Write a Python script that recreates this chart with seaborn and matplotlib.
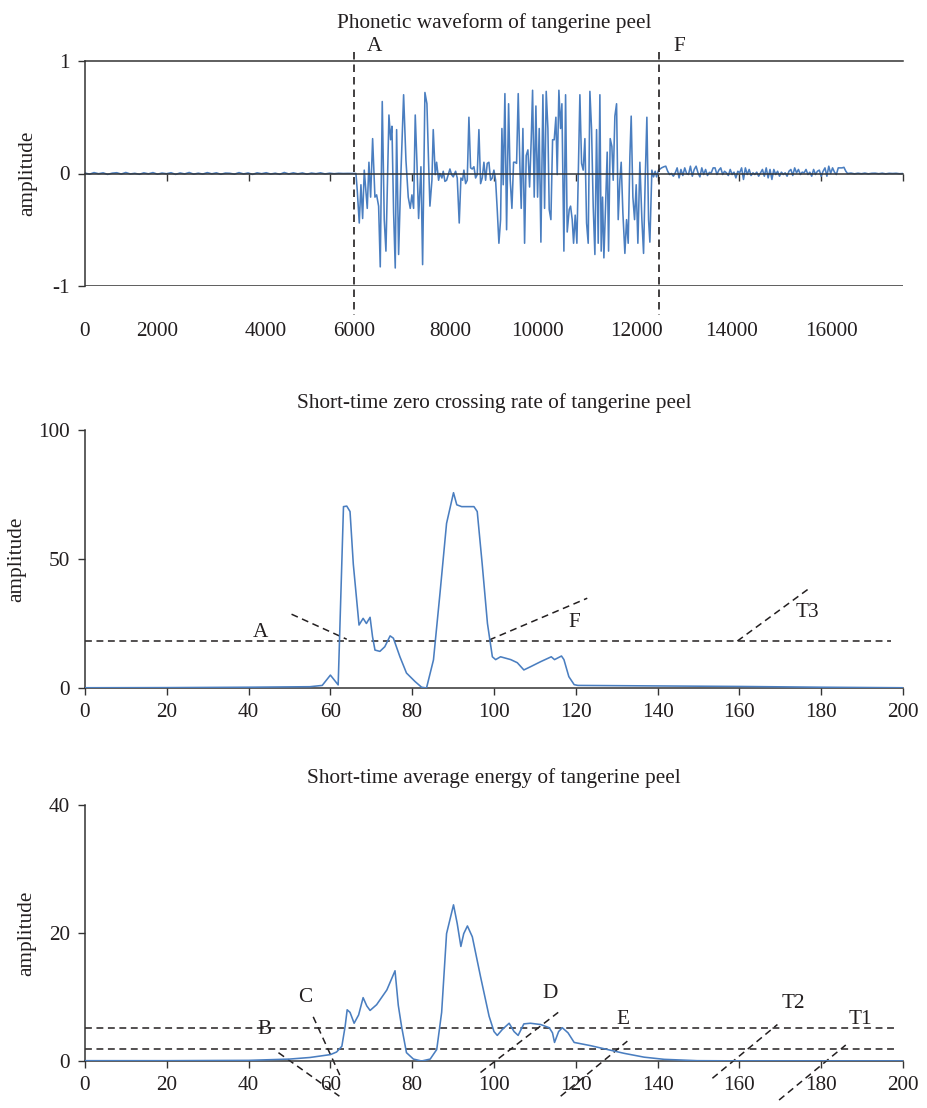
import numpy as np
import matplotlib.pyplot as plt
from matplotlib.ticker import FixedLocator
import seaborn as sns

# ---------------- data ----------------
# phonetic waveform: quiet lead-in, voiced part (A..F), weak tail
pre_amp = [0.004, -0.006, 0.008, -0.002, 0.006, -0.008, 0.003, 0.007, -0.005, 0.009,
           -0.004, 0.002, -0.007, 0.006, -0.003, 0.008, -0.006, 0.004, -0.002, 0.007,
           -0.008, 0.005, -0.004, 0.009, -0.006, 0.003, -0.005, 0.008, -0.003, 0.006,
           -0.007, 0.004, 0.002, -0.006, 0.008, -0.004, 0.005, -0.008, 0.006, -0.002,
           0.007, -0.005, 0.003, -0.007, 0.009, -0.004, 0.006, -0.003, 0.005, -0.006,
           0.004, -0.002, 0.006, -0.004, 0.003, -0.002, 0.002, 0.0, 0.001, 0.0]
pre_span = (0, 5880)

voiced_x = [5918, 5962, 5991, 6035, 6072, 6109, 6145, 6211, 6248, 6285, 6329, 6380, 6417,
            6461, 6497, 6541, 6585, 6622, 6688, 6725, 6754, 6791, 6827, 6857, 6901, 6952,
            7011, 7062, 7113, 7157, 7194, 7231, 7267, 7304, 7341, 7392, 7429, 7480, 7524,
            7561, 7590, 7634, 7663, 7707, 7737, 7781, 7810, 7854, 7883, 7920, 7957, 7993,
            8030, 8067, 8103, 8155, 8191, 8235, 8272, 8309, 8338, 8375, 8411, 8448, 8485,
            8521, 8558, 8595, 8631, 8668, 8705, 8741, 8778, 8815, 8851, 8888, 8925, 8961,
            8998, 9035, 9071, 9108, 9145, 9174, 9203, 9240, 9277, 9321, 9357, 9394, 9431,
            9467, 9497, 9533, 9570, 9599, 9636, 9673, 9709, 9746, 9783, 9819, 9849, 9885,
            9922, 9959, 9995, 10032, 10076, 10113, 10149, 10186, 10215, 10252, 10289,
            10325, 10362, 10391, 10428, 10465, 10494, 10538, 10575, 10611, 10655, 10685,
            10721, 10751, 10787, 10824, 10853, 10890, 10927, 10963, 11000, 11037, 11073,
            11110, 11147, 11183, 11220, 11257, 11293, 11330, 11359, 11389, 11418, 11455,
            11491, 11521, 11557, 11594, 11623, 11660, 11697, 11733, 11770, 11799, 11836,
            11880, 11917, 11953, 11990, 12019, 12056, 12093, 12129, 12166, 12210, 12254,
            12291, 12327, 12364, 12401, 12430, 12474, 12511, 12547, 12577, 12621, 12687,
            12738]
voiced_amp = [0.0, 0.0, -0.15, -0.44, -0.10, -0.40, 0.03, -0.31, 0.10, -0.21, 0.31, -0.21,
              -0.19, -0.29, -0.83, 0.64, -0.41, -0.69, 0.52, 0.30, 0.42, -0.35, -0.84, 0.39,
              -0.72, 0.0, 0.70, 0.12, -0.21, -0.31, -0.19, -0.31, 0.52, 0.10, -0.40, 0.06,
              -0.81, 0.72, 0.62, 0.09, -0.29, -0.06, 0.39, -0.01, 0.10, -0.06, 0.0, -0.04,
              0.02, -0.07, -0.06, -0.01, 0.04, -0.01, -0.03, 0.02, -0.04, -0.44, -0.04,
              -0.06, 0.03, -0.09, -0.06, 0.50, 0.05, 0.04, 0.06, -0.04, -0.01, 0.39, -0.09,
              -0.04, 0.10, -0.06, 0.09, 0.10, -0.06, -0.04, 0.03, -0.06, -0.32, -0.62,
              -0.41, 0.40, -0.10, 0.71, -0.50, 0.62, -0.06, -0.31, 0.10, 0.10, 0.09, 0.71,
              0.06, -0.31, 0.40, -0.62, 0.16, 0.21, -0.12, 0.30, 0.74, -0.21, 0.60, -0.21,
              0.40, -0.61, 0.70, -0.31, 0.73, 0.40, -0.32, -0.41, 0.30, 0.30, 0.50, -0.01,
              0.74, 0.40, 0.62, -0.69, 0.70, -0.52, -0.32, -0.29, -0.41, -0.62, -0.37,
              -0.62, -0.06, 0.70, 0.09, 0.03, 0.31, -0.44, -0.62, 0.73, 0.39, -0.29, -0.72,
              0.39, -0.62, 0.70, -0.69, -0.21, -0.75, -0.29, 0.19, -0.69, 0.31, 0.24, -0.06,
              0.51, 0.62, -0.41, -0.06, 0.10, -0.35, -0.71, -0.41, -0.62, 0.15, 0.51, -0.21,
              -0.41, -0.10, -0.62, 0.10, -0.41, -0.71, -0.06, 0.50, -0.41, -0.61, 0.03,
              -0.03, 0.02, -0.03, 0.03, 0.05, 0.06]

post_amp = [0.065, 0.02, -0.009, 0.0, -0.024, 0.006, 0.05, -0.039, 0.036, -0.018, 0.05, 0.0,
            -0.009, 0.065, -0.024, 0.036, 0.065, 0.006, -0.03, 0.05, -0.009, 0.036, -0.018,
            0.01, 0.006, 0.05, 0.05, -0.009, 0.03, 0.05, -0.009, 0.02, 0.006, -0.018, 0.036,
            -0.009, 0.012, -0.039, 0.02, 0.006, 0.05, -0.053, 0.05, -0.009, 0.036, -0.018,
            0.006, -0.009, 0.012, -0.024, 0.006, 0.036, -0.024, 0.05, -0.039, 0.036, -0.053,
            0.036, -0.009, 0.02, -0.024, 0.012, -0.009, 0.006, -0.024, 0.02, 0.036, -0.018,
            0.05, 0.006, 0.036, -0.009, 0.012, 0.006, 0.036, -0.009, 0.012, -0.024, 0.036,
            -0.009, 0.02, 0.03, -0.024, 0.02, 0.05, -0.024, 0.065, 0.0, 0.05, 0.012, -0.009,
            0.05, 0.05, 0.05, 0.055, 0.02]
post_span = (12780, 16742)
tail_amp = [0.0, 0.004, -0.003, 0.003, -0.002, 0.004, -0.003, 0.002, 0.003, -0.002, 0.003,
            -0.003, 0.002, 0.0, 0.002, -0.002, 0.0]
tail_span = (16780, 18000)

wave_tick_pos = [0, 1580, 3980, 5920, 8030, 9950, 12130, 14220, 16430]
wave_tick_labels = ["0", "2000", "4000", "6000", "8000", "10000", "12000", "14000", "16000"]
endpoints_x = [5920, 12640]
endpoints_lab = ["A", "F"]

# short-time zero crossing rate
zcr_x = [0, 20, 40, 55, 58, 60, 61.9, 63.2, 64.0, 64.8, 65.6, 67.0, 68.0, 68.8, 69.7, 70.3,
         70.9, 72.1, 73.3, 74.6, 75.4, 77.0, 78.6, 80.7, 82.3, 83.5, 85.2, 86.8, 88.4, 90.1,
         90.9, 92.1, 93.5, 95.1, 95.9, 97.1, 98.4, 99.6, 100.4, 101.6, 104.1, 105.7, 107.3,
         109.0, 111.4, 114.0, 114.8, 116.5, 117.1, 118.3, 119.6, 120.5, 140, 160, 180, 200]
zcr_y = [0.1, 0.15, 0.3, 0.5, 1.0, 5.0, 1.2, 70.3, 70.5, 68.4, 48, 24.4, 27.0, 25, 27.4, 19.9,
         14.7, 14.2, 16, 20.2, 19.3, 12.1, 5.8, 2.5, 0.3, 0.0, 10.9, 36.8, 63.8, 75.7, 71,
         70.3, 70.3, 70.3, 68.4, 48.3, 25, 12.1, 11, 12.1, 11, 9.8, 7.0, 8.3, 10.2, 12.1, 11,
         12.4, 11, 4.4, 1.3, 1.0, 0.8, 0.6, 0.3, 0.1]
zcr_threshold = 18.2
zcr_labels = ["A", "F", "T3"]
zcr_label_xy = [(42.8, 21.7), (119.6, 25.5), (176.6, 29.2)]
zcr_leaders = [((50.5, 28.6), (64.0, 18.9)), ((98.8, 18.6), (122.8, 34.8)),
               ((159.5, 18.2), (177.4, 39.0))]

# short-time average energy
en_x = [0, 20, 40, 50, 55, 60, 61.5, 62.8, 63.6, 64.1, 64.8, 65.8, 66.9, 68.0, 68.9, 69.7,
        71.3, 73.8, 75.8, 76.6, 77.4, 78.6, 80.3, 82.3, 84.4, 86.0, 87.2, 88.4, 90.1, 91.0,
        91.9, 92.6, 93.5, 94.7, 96.7, 98.8, 100.0, 100.8, 102.0, 103.7, 104.9, 105.9, 107.3,
        108.9, 111.4, 113.5, 114.3, 114.8, 115.8, 116.7, 118.1, 119.6, 123.6, 127.7, 131.8,
        136.7, 141.6, 149.7, 160, 180, 200]
en_y = [0.05, 0.05, 0.1, 0.3, 0.55, 1.0, 1.4, 2.3, 5.4, 8.0, 7.6, 5.9, 7.2, 9.9, 8.6, 7.9,
        8.8, 11.1, 14.1, 8.7, 5.4, 1.3, 0.3, 0.0, 0.3, 1.8, 7.6, 19.9, 24.4, 21.5, 17.9,
        19.9, 21.1, 19.4, 13.2, 7.0, 4.6, 4.0, 4.9, 5.9, 4.6, 4.0, 5.8, 5.9, 5.7, 5.2, 4.4,
        2.9, 4.6, 5.2, 4.4, 2.9, 2.4, 1.8, 1.2, 0.6, 0.26, 0.05, 0.02, 0.02, 0.02]
en_thresholds = [5.1, 1.95]
en_labels = ["B", "C", "D", "E", "T2", "T1"]
en_label_xy = [(43.8, 5.0), (53.8, 9.95), (113.6, 10.6), (131.4, 6.5), (173.3, 9.0),
               (189.6, 6.5)]
en_leaders = [((47.3, 1.3), (62.2, -5.5)), ((55.8, 6.9), (62.3, -2.2)),
              ((96.7, -1.8), (115.7, 7.6)), ((116.3, -5.5), (132.6, 3.1)),
              ((153.4, -2.7), (169.3, 5.7)), ((169.7, -6.1), (186.0, 2.5))]

# ---------------- style ----------------
sns.set_style("ticks")
plt.rcParams["font.family"] = ["Liberation Serif", "DejaVu Serif"]
plt.rcParams["axes.unicode_minus"] = False

BLUE = "#4a7ec0"
INK = "#231f20"
AXC = "#333333"
FS = 15.3
DASH = (0, (4.5, 3))

fig = plt.figure(figsize=(9.28, 11.08), dpi=100)
W, H = 928, 1108


def box(top, bottom):
    return [85 / W, 1 - bottom / H, 818 / W, (bottom - top) / H]


def style_axis(ax):
    for s in ax.spines.values():
        s.set_color(AXC)
        s.set_linewidth(1.1)
    ax.tick_params(which="both", direction="out", length=5, width=1.0, color=AXC,
                   labelsize=FS, labelcolor=INK, pad=6)


# ---------- panel 1: waveform ----------
ax1 = fig.add_axes(box(61, 286))
wave_x = np.concatenate([np.linspace(*pre_span, len(pre_amp)), voiced_x,
                         np.linspace(*post_span, len(post_amp)),
                         np.linspace(*tail_span, len(tail_amp))])
wave_y = np.concatenate([pre_amp, voiced_amp, post_amp, tail_amp])
sns.lineplot(x=wave_x, y=wave_y, ax=ax1, color=BLUE, lw=1.15, estimator=None, zorder=2)
ax1.set_xlim(0, 18000)
ax1.set_ylim(-1, 1)
style_axis(ax1)
ax1.spines["right"].set_visible(False)
ax1.spines["bottom"].set_position(("data", 0))
ax1.axhline(-1, color=AXC, lw=1.1)
ax1.set_yticks([-1, 0, 1])
ax1.set_yticklabels(["-1", "0", "1"])
ax1.xaxis.set_major_locator(FixedLocator(wave_tick_pos))
ax1.set_xticklabels(wave_tick_labels)
ax1.xaxis.set_minor_locator(FixedLocator(np.arange(0, 18001, 1800)))
ax1.tick_params(axis="x", which="major", length=0, pad=107)
ax1.tick_params(axis="x", which="minor", length=5)
for xb, lab in zip(endpoints_x, endpoints_lab):
    ax1.plot([xb, xb], [1.076, -1.26], ls=DASH, color=INK, lw=1.2, clip_on=False)
    ax1.text(xb + 440, 1.125, lab, fontsize=FS, color=INK, ha="center", va="center")
ax1.set_title("Phonetic waveform of tangerine peel", fontsize=FS, color=INK, pad=24)
ax1.set_ylabel("amplitude", fontsize=FS, color=INK)
ax1.yaxis.set_label_coords(-0.058, 0.5)
ax1.set_xlabel("")

# ---------- panel 2: zero crossing rate ----------
ax2 = fig.add_axes(box(430, 688))
sns.lineplot(x=zcr_x, y=zcr_y, ax=ax2, color=BLUE, lw=1.15, estimator=None, zorder=3)
ax2.set_xlim(0, 200)
ax2.set_ylim(0, 100)
style_axis(ax2)
sns.despine(ax=ax2)
ax2.set_xticks(range(0, 201, 20))
ax2.set_yticks([0, 50, 100])
ax2.plot([0, 197], [zcr_threshold, zcr_threshold], ls=DASH, color=INK, lw=1.1)
for lab, (tx, ty), (p0, p1) in zip(zcr_labels, zcr_label_xy, zcr_leaders):
    ax2.plot([p0[0], p1[0]], [p0[1], p1[1]], ls=DASH, color=INK, lw=1.1, clip_on=False)
    ax2.text(tx, ty, lab, fontsize=FS, color=INK, ha="center", va="center")
ax2.set_title("Short-time zero crossing rate of tangerine peel", fontsize=FS, color=INK,
              pad=16)
ax2.set_ylabel("amplitude", fontsize=FS, color=INK)
ax2.yaxis.set_label_coords(-0.072, 0.5)
ax2.set_xlabel("")

# ---------- panel 3: average energy ----------
ax3 = fig.add_axes(box(805, 1061))
sns.lineplot(x=en_x, y=en_y, ax=ax3, color=BLUE, lw=1.15, estimator=None, zorder=3)
ax3.set_xlim(0, 200)
ax3.set_ylim(0, 40)
style_axis(ax3)
sns.despine(ax=ax3)
ax3.set_xticks(range(0, 201, 20))
ax3.set_yticks([0, 20, 40])
for th in en_thresholds:
    ax3.plot([0, 198], [th, th], ls=DASH, color=INK, lw=1.1)
for lab, (tx, ty), (p0, p1) in zip(en_labels, en_label_xy, en_leaders):
    ax3.plot([p0[0], p1[0]], [p0[1], p1[1]], ls=DASH, color=INK, lw=1.1, clip_on=False)
    ax3.text(tx, ty, lab, fontsize=FS, color=INK, ha="center", va="center")
ax3.set_title("Short-time average energy of tangerine peel", fontsize=FS, color=INK, pad=16)
ax3.set_ylabel("amplitude", fontsize=FS, color=INK)
ax3.yaxis.set_label_coords(-0.06, 0.5)
ax3.set_xlabel("")

fig.savefig("out.png", dpi=100)
